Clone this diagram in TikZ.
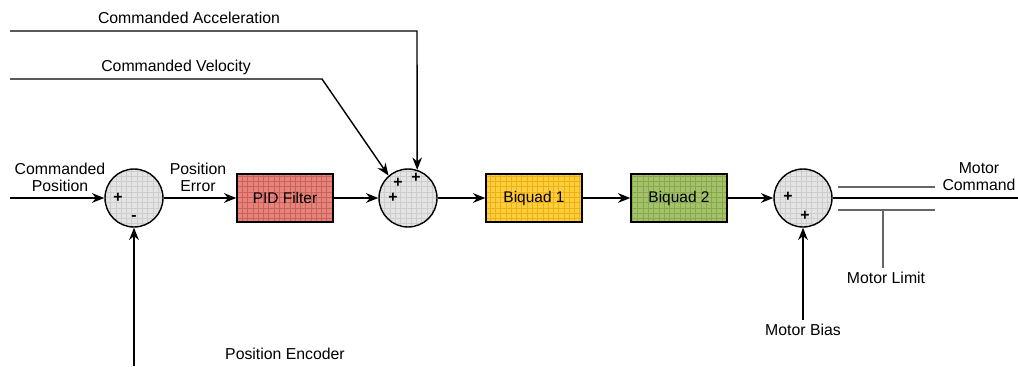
\documentclass[tikz,border=0pt]{standalone}
\usepackage{fontspec}
\setmainfont{Liberation Sans}
\usepackage{tikz}
\usetikzlibrary{arrows.meta}
\usetikzlibrary{positioning}
\usetikzlibrary{patterns}
\definecolor{pidred}{RGB}{228,132,122}
\definecolor{pidgrid}{RGB}{204,96,90}
\definecolor{bqyellow}{RGB}{255,206,60}
\definecolor{bqygrid}{RGB}{238,176,20}
\definecolor{bqgreen}{RGB}{164,194,106}
\definecolor{bqggrid}{RGB}{136,168,80}
\definecolor{sumgray}{RGB}{228,228,228}
\definecolor{sumgrid}{RGB}{205,205,205}
\tikzstyle{block}=[draw,line width=0.8pt,minimum width=1.92cm,minimum height=0.96cm,inner sep=1pt,font=\fontsize{8.8}{10}\selectfont]
\tikzstyle{summer}=[draw,circle,line width=0.8pt,minimum size=1.16cm,inner sep=0pt,preaction={fill=sumgray},pattern=grid,pattern color=sumgrid]
\tikzstyle{sign}=[inner sep=0pt,font=\fontsize{9}{9}\selectfont\bfseries]
\tikzstyle{lbl}=[align=center,font=\fontsize{9}{9.7}\selectfont]

\begin{document}
\begin{tikzpicture}[x=0.02cm,y=-0.02cm,line width=0.8pt,>={Stealth[length=7pt,width=5.5pt]}]
\tikzstyle{limit}=[draw=black!60,line width=0.6pt]
\useasboundingbox (0,0) rectangle (1018,366);

% summing junctions
\node [summer] (s1) at (134,198) {};
\node [summer] (s2) at (408,198) {};
\node [summer] (s3) at (803,198) {};

% filter blocks
\node [block,preaction={fill=pidred},pattern=grid,pattern color=pidgrid] (pid) at (285,198) {PID Filter};
\node [block,preaction={fill=bqyellow},pattern=grid,pattern color=bqygrid] (bq1) at (534,198) {Biquad 1};
\node [block,preaction={fill=bqgreen},pattern=grid,pattern color=bqggrid] (bq2) at (679,198) {Biquad 2};

% signs
\node [sign] at (118,198) {+};
\node [sign] at (134,218) {-};
\node [sign] at (398,183) {+};
\node [sign] at (416,178) {+};
\node [sign] at (393,198) {+};
\node [sign] at (788,197) {+};
\node [sign] at (805,216) {+};

% free ends
\coordinate (posin) at (10,198);
\coordinate (accin) at (10,31);
\coordinate (acccorner) at (417,31);
\coordinate (velin) at (10,79);
\coordinate (velcorner) at (322,79);
\coordinate (encin) at (134,366);
\coordinate (biasin) at (803,320);
\coordinate (cmdout) at (1018,198);
\coordinate (limhi1) at (838,187);
\coordinate (limhi2) at (935,187);
\coordinate (limlo1) at (838,210);
\coordinate (limlo2) at (935,210);
\coordinate (limtap) at (883,210);
\coordinate (limend) at (883,268);

% main path
\draw [->] (posin) -- (s1);
\draw [->] (s1) -- (pid);
\draw [->] (pid) -- (s2);
\draw [->] (s2) -- (bq1);
\draw [->] (bq1) -- (bq2);
\draw [->] (bq2) -- (s3);
\draw (s3) -- (cmdout);

% feed forward and feedback
\draw [->] (accin) -- (acccorner) -- (s2.72);
\draw [->] (velin) -- (velcorner) -- (s2.131);
\draw [->] (encin) -- (s1);
\draw [->] (biasin) -- (s3);

% limit
\draw [limit] (limhi1) -- (limhi2);
\draw [limit] (limlo1) -- (limlo2);
\draw [limit] (limtap) -- (limend);

% labels
\node [lbl] (lpos) at (60,177) {Commanded\\Position};
\node [lbl] (lerr) at (198,177) {Position\\Error};
\node [lbl] (lacc) at (189,18) {Commanded Acceleration};
\node [lbl] (lvel) at (176,67) {Commanded Velocity};
\node [lbl] (lcmd) at (979,177) {Motor\\Command};
\node [lbl] (llim) at (886,278) {Motor Limit};
\node [lbl] (lbias) at (803,330) {Motor Bias};
\node [lbl] (lenc) at (285,354) {Position Encoder};
\end{tikzpicture}
\end{document}
